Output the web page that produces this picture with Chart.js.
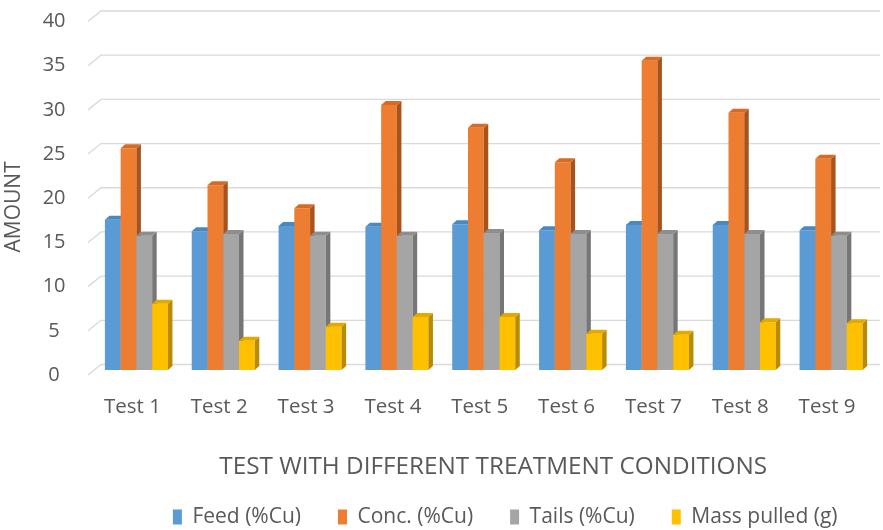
<!DOCTYPE html>
<html>
<head>
<meta charset="utf-8">
<script src="https://cdn.jsdelivr.net/npm/chart.js@4.4.1/dist/chart.umd.min.js"></script>
<style>
  html, body { margin: 0; padding: 0; background: #ffffff; }
  #wrap { width: 883px; height: 530px; }
</style>
</head>
<body>
<div id="wrap"><canvas id="chart" width="883" height="530"></canvas></div>
<script>
// Test series
const categories = ['Test 1', 'Test 2', 'Test 3', 'Test 4', 'Test 5', 'Test 6', 'Test 7', 'Test 8', 'Test 9'];
const feedCu = [17.0, 15.7, 16.3, 16.2, 16.5, 15.8, 16.4, 16.4, 15.8];
const concCu = [25.1, 20.9, 18.3, 30.0, 27.4, 23.5, 35.0, 29.1, 23.9];
const tailsCu = [15.2, 15.4, 15.2, 15.2, 15.5, 15.4, 15.4, 15.4, 15.2];
const massPulled = [7.5, 3.3, 4.9, 6.0, 6.0, 4.1, 4.0, 5.4, 5.3];
const seriesNames = ['Feed (%Cu)', 'Conc. (%Cu)', 'Tails (%Cu)', 'Mass pulled (g)'];
const yMin = 0, yMax = 40, yStep = 5;

// front / side / top shades for the extruded columns
const palette = [
  { front: '#5b9bd5', side: '#3e74a8', top: '#4a88c2' },
  { front: '#ed7d31', side: '#a9531c', top: '#d76b25' },
  { front: '#a5a5a5', side: '#767676', top: '#8e8e8e' },
  { front: '#ffc000', side: '#b98b00', top: '#e2a900' }
];

const DX = 4.5;   // column depth, horizontal
const DY = 4;     // column depth, vertical
const TEXT = '#595959';
const FONT = "'Open Sans', 'DejaVu Sans', sans-serif";

// Back-wall gridlines with a slanted side wall, then the columns drawn
// left to right so each front face hides the neighbour's side face.
const depthColumns = {
  id: 'depthColumns',
  beforeDatasetsDraw(chart) {
    const ctx = chart.ctx;
    const area = chart.chartArea;
    const yScale = chart.scales.y;
    ctx.save();
    ctx.strokeStyle = '#d9d9d9';
    ctx.lineWidth = 1.3;
    yScale.ticks.forEach(t => {
      const y = yScale.getPixelForValue(t.value);
      ctx.beginPath();
      ctx.moveTo(area.left - 5, y + 5);
      ctx.lineTo(area.left + 8, y - 5.5);
      ctx.lineTo(chart.width - 3, y - 5.5);
      ctx.stroke();
    });
    ctx.restore();

    chart.data.datasets.forEach((ds, i) => {
      const meta = chart.getDatasetMeta(i);
      if (!meta.visible) return;
      const shade = palette[i];
      meta.data.forEach(bar => {
        const p = bar.getProps(['x', 'y', 'base', 'width'], true);
        const x0 = p.x - p.width / 2;
        const x1 = p.x + p.width / 2;
        bar.draw(ctx, area);
        ctx.save();
        // side face
        ctx.fillStyle = shade.side;
        ctx.beginPath();
        ctx.moveTo(x1, p.y);
        ctx.lineTo(x1 + DX, p.y - DY);
        ctx.lineTo(x1 + DX, p.base - DY);
        ctx.lineTo(x1, p.base);
        ctx.closePath();
        ctx.fill();
        // top face
        ctx.fillStyle = shade.top;
        ctx.beginPath();
        ctx.moveTo(x0, p.y);
        ctx.lineTo(x0 + DX, p.y - DY);
        ctx.lineTo(x1 + DX, p.y - DY);
        ctx.lineTo(x1, p.y);
        ctx.closePath();
        ctx.fill();
        ctx.restore();
      });
    });
    return false;
  }
};

const seriesValues = [feedCu, concCu, tailsCu, massPulled];

new Chart(document.getElementById('chart'), {
  type: 'bar',
  data: {
    labels: categories,
    datasets: seriesNames.map((name, i) => ({
      label: name,
      data: seriesValues[i],
      backgroundColor: palette[i].front,
      borderWidth: 0,
      categoryPercentage: 0.726,
      barPercentage: 1.0
    }))
  },
  options: {
    responsive: false,
    animation: false,
    devicePixelRatio: 1,
    layout: { padding: { top: 16.5, right: 8.5, bottom: -7.5, left: 0 } },
    plugins: {
      tooltip: { enabled: false },
      legend: {
        position: 'bottom',
        align: 'end',
        labels: {
          boxWidth: 9,
          boxHeight: 15,
          padding: 37,
          color: TEXT,
          font: { family: FONT, size: 21 }
        }
      }
    },
    scales: {
      x: {
        offset: true,
        grid: { display: false, drawTicks: true, tickLength: 22 },
        border: { display: false },
        ticks: {
          color: TEXT,
          font: { family: FONT, size: 20.5 },
          padding: 3,
          labelOffset: -4,
          maxRotation: 0,
          autoSkip: false
        },
        title: {
          display: true,
          text: '   TEST WITH DIFFERENT TREATMENT CONDITIONS',
          color: TEXT,
          font: { family: FONT, size: 24.3 },
          padding: { top: 0, bottom: -12 }
        },
        afterFit(scale) { scale.height = 99.5; }
      },
      y: {
        min: yMin,
        max: yMax,
        grid: { display: false, drawTicks: true, tickLength: 24.5 },
        border: { display: false },
        ticks: {
          stepSize: yStep,
          color: TEXT,
          font: { family: FONT, size: 20 },
          crossAlign: 'center',
          padding: 3,
          labelOffset: 5
        },
        title: {
          display: true,
          text: 'AMOUNT     ',
          color: TEXT,
          font: { family: FONT, size: 21 },
          padding: { top: 1, bottom: 0 }
        },
        afterFit(scale) { scale.width = 93; }
      }
    }
  },
  plugins: [depthColumns]
});
</script>
</body>
</html>
